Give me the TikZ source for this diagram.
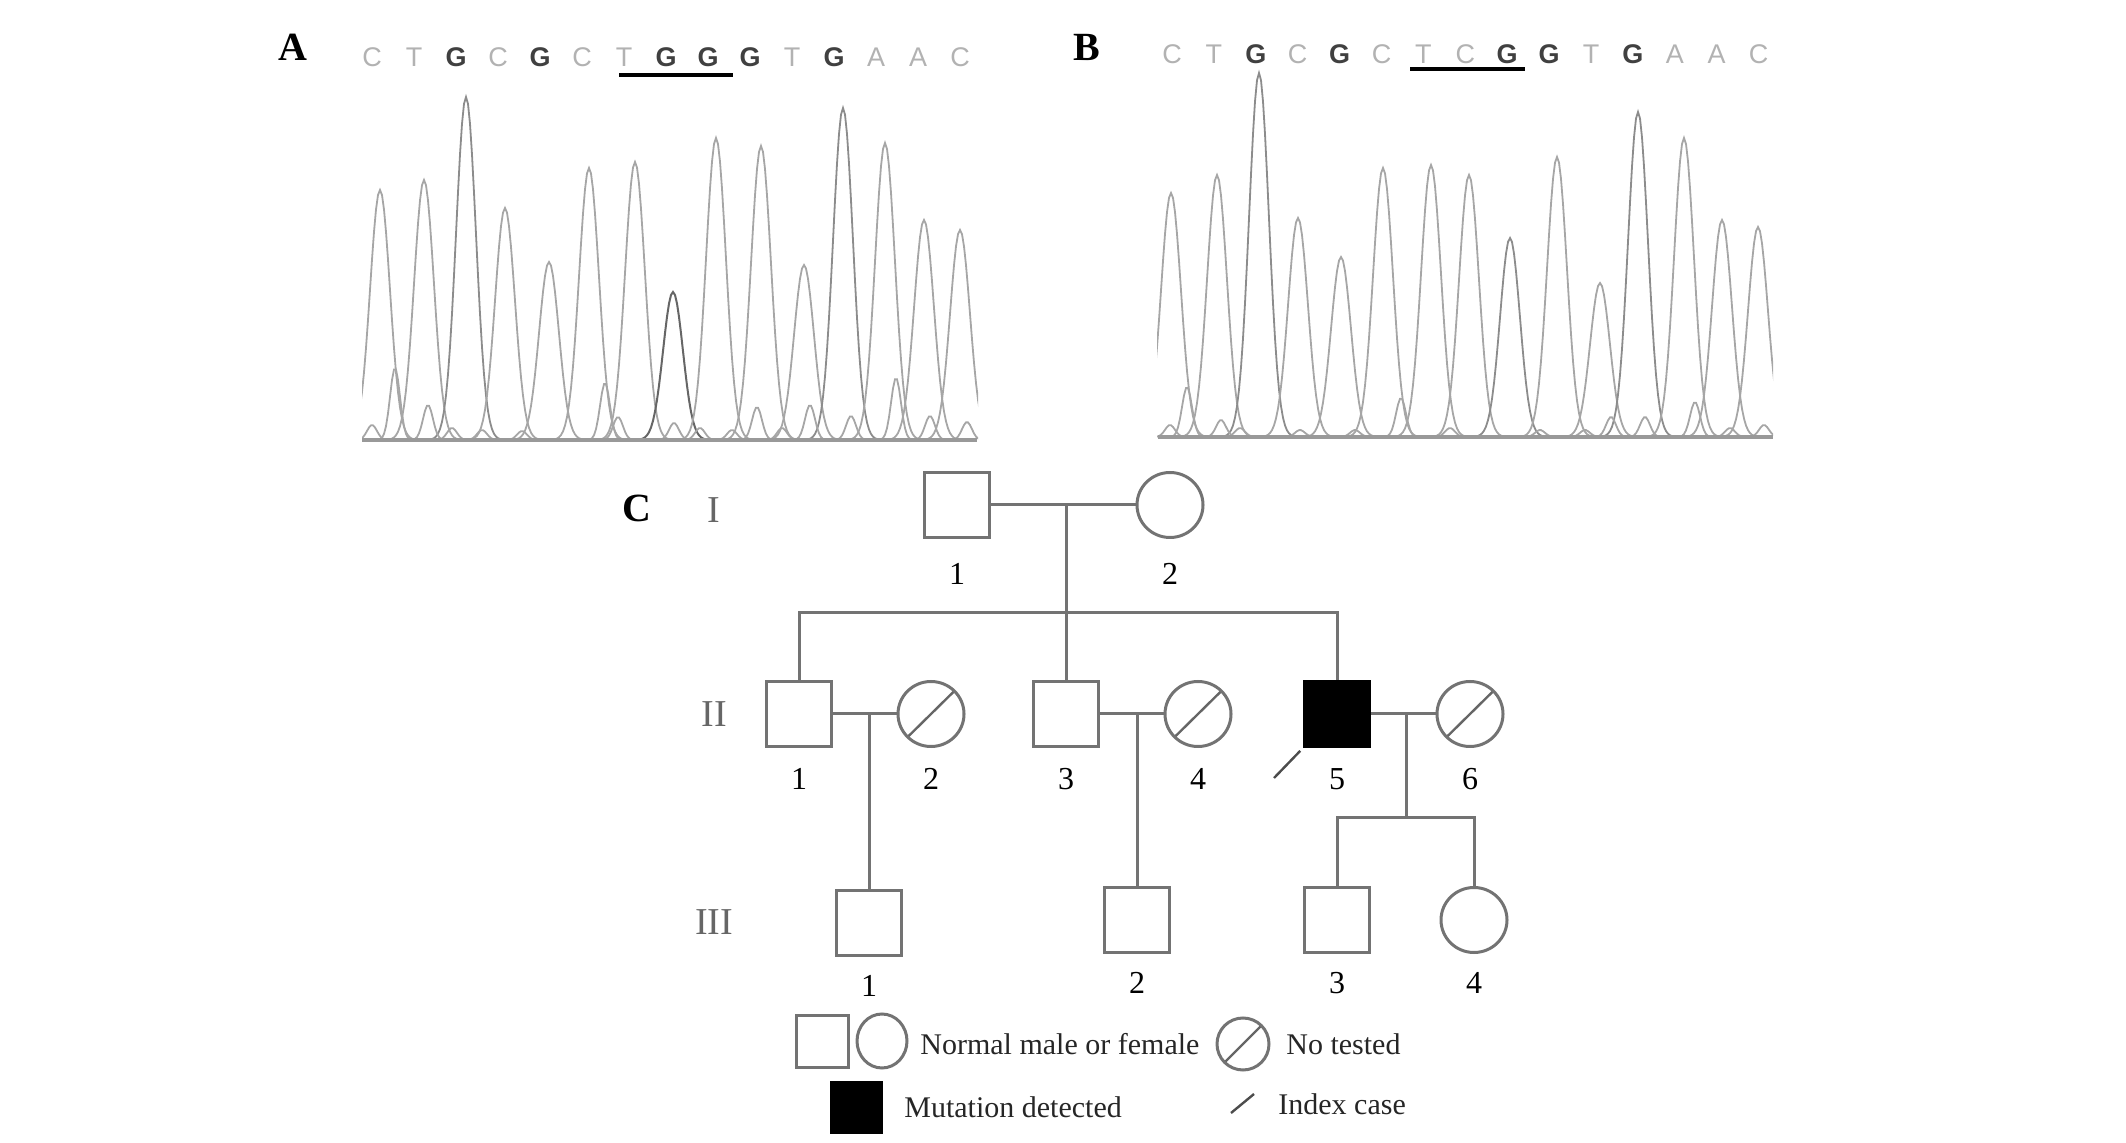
\documentclass[tikz,border=0pt]{standalone}
\usepackage{fontspec}
\setmainfont{Liberation Serif}
\setsansfont{Liberation Sans}
\usetikzlibrary{shapes.geometric,positioning}

\tikzset{
  male/.style={rectangle, draw=black!55, line width=1.5pt, inner sep=0pt, minimum size=32.5pt},
  female/.style={ellipse, draw=black!55, line width=1.5pt, inner sep=0pt, minimum width=33pt, minimum height=32.5pt},
  affected/.style={fill=black, draw=black},
  untested/.style={path picture={\draw[black!60, line width=1.2pt] (path picture bounding box.south west) -- (path picture bounding box.north east);}},
  link/.style={draw=black!55, line width=1.5pt},
  pointer/.style={draw=black!70, line width=1.2pt, shorten >=2pt},
  tag/.style={inner sep=0pt, font=\fontsize{16}{16}\selectfont},
  gen/.style={inner sep=0pt, text=black!60, font=\fontsize{19}{19}\selectfont},
  panel/.style={inner sep=0pt, font=\fontsize{20}{20}\selectfont\bfseries},
  key/.style={inner sep=0pt, anchor=west, text=black!85, font=\fontsize{15}{15}\selectfont},
  nt/.style={inner sep=0pt, text=black!30, font=\sffamily\fontsize{13.5}{13.5}\selectfont},
  ntg/.style={nt, text=black!75, font=\sffamily\bfseries\fontsize{13.5}{13.5}\selectfont},
  uline/.style={draw=black, line width=2pt},
  pk/.style={draw=black!35, line width=0.9pt},
  pkg/.style={draw=black!45, line width=0.9pt},
  pkd/.style={draw=black!60, line width=1pt},
  axisline/.style={draw=black!40, line width=2pt}
}

\begin{document}
\begin{tikzpicture}[x=0.5pt, y=-0.5pt]
\useasboundingbox (0,0) rectangle (2126,1143);

\node[panel] (pa) at (293,47) {A};
\node[panel] (pb) at (1087,47) {B};
\node[panel] (pc) at (637,508) {C};

% sequences
\foreach \b/\s [count=\i from 0] in {C/nt,T/nt,G/ntg,C/nt,G/ntg,C/nt,T/nt,G/ntg,G/ntg,G/ntg,T/nt,G/ntg,A/nt,A/nt,C/nt}
  \node[\s] (sa\i) at (372+42*\i,57) {\b};
\foreach \b/\s [count=\i from 0] in {C/nt,T/nt,G/ntg,C/nt,G/ntg,C/nt,T/nt,C/nt,G/ntg,G/ntg,T/nt,G/ntg,A/nt,A/nt,C/nt}
  \node[\s] (sb\i) at (1172+41.9*\i,54) {\b};
\draw[uline] (619,75) -- (733,75);
\draw[uline] (1410,69) -- (1525,69);

% traces A
\begin{scope}
\clip (362,60) rectangle (978,446);
\foreach \c/\t/\s in {380/190/pk, 424/180/pk, 466/97/pkg, 505/208/pk, 549/262/pk, 589/168/pk,
    635/162/pk, 673/292/pkd, 716/138/pk, 761/146/pk, 804/265/pk, 843/108/pkg, 885/143/pk,
    924/220/pk, 960/230/pk}
  \draw[\s] plot[domain=\c-42:\c+42, samples=43] (\x,{440-(440-\t)*exp(-(\x-\c)*(\x-\c)/196)});
\foreach \c/\t in {395/368, 428/405, 605/383, 618/417, 674/423, 757/407, 810/405, 851/416,
    896/378, 930/416, 967/422, 372/425, 452/428, 482/430, 522/431, 700/428, 732/430, 782/428}
  \draw[pk] plot[domain=\c-21:\c+21, samples=22] (\x,{440-(440-\t)*exp(-(\x-\c)*(\x-\c)/49)});
\end{scope}
\draw[axisline] (362,440) -- (977,440);

% traces B
\begin{scope}
\clip (1157,60) rectangle (1773,443);
\foreach \c/\t/\s in {1171/193/pk, 1217/175/pk, 1259/73/pkg, 1298/218/pk, 1341/257/pk,
    1383/168/pk, 1431/165/pk, 1469/175/pk, 1510/238/pkg, 1557/157/pk, 1600/283/pk,
    1638/112/pkg, 1684/138/pk, 1722/220/pk, 1758/227/pk}
  \draw[\s] plot[domain=\c-42:\c+42, samples=43] (\x,{437-(437-\t)*exp(-(\x-\c)*(\x-\c)/196)});
\foreach \c/\t in {1187/387, 1221/420, 1401/398, 1611/417, 1645/417, 1695/402, 1764/425,
    1170/425, 1240/428, 1300/430, 1355/430, 1450/428, 1540/430, 1585/430, 1730/428}
  \draw[pk] plot[domain=\c-21:\c+21, samples=22] (\x,{437-(437-\t)*exp(-(\x-\c)*(\x-\c)/49)});
\end{scope}
\draw[axisline] (1158,437) -- (1773,437);

% pedigree
\node[gen] (g1) at (714,510) {I};
\node[gen] (g2) at (714,714) {II};
\node[gen] (g3) at (714,922) {III};

\node[male]                (i1)   at (957,505)  {};
\node[female]              (i2)   at (1170,505) {};
\node[male]                (ii1)  at (799,714)  {};
\node[female, untested]    (ii2)  at (931,714)  {};
\node[male]                (ii3)  at (1066,714) {};
\node[female, untested]    (ii4)  at (1198,714) {};
\node[male, affected]      (ii5)  at (1337,714) {};
\node[female, untested]    (ii6)  at (1470,714) {};
\node[male]                (iii1) at (869,923)  {};
\node[male]                (iii2) at (1137,920) {};
\node[male]                (iii3) at (1337,920) {};
\node[female]              (iii4) at (1474,920) {};

\node[tag, below=12pt of i1] {1};
\node[tag, below=12pt of i2] {2};
\node[tag, below=10pt of ii1] {1};
\node[tag, below=10pt of ii2] {2};
\node[tag, below=10pt of ii3] {3};
\node[tag, below=10pt of ii4] {4};
\node[tag, below=10pt of ii5] {5};
\node[tag, below=10pt of ii6] {6};
\node[tag, below=9pt of iii1] {1};
\node[tag, below=9pt of iii2] {2};
\node[tag, below=9pt of iii3] {3};
\node[tag, below=9pt of iii4] {4};

\coordinate (m1) at (ii3 |- i1);
\coordinate (s1) at (1066,613);
\coordinate (s3) at (1406,818);
\draw[link] (i1) -- (i2);
\draw[link] (m1) -- (ii3);
\draw[link] (ii1.north) |- (s1) -| (ii5.north);
\draw[link] (ii1) -- (ii2);
\draw[link] (ii3) -- (ii4);
\draw[link] (ii5) -- (ii6);
\draw[link] (iii1.north |- ii1.east) -- (iii1.north);
\draw[link] (iii2.north |- ii3.east) -- (iii2.north);
\draw[link] (s3 |- ii5.east) -- (s3);
\draw[link] (iii3.north) |- (s3) -| (iii4.north);

\coordinate (idx) at (1274,778);
\draw[pointer] (idx) -- (ii5.south west);

% legend
\node[male, minimum size=26pt]                       (km) at (822,1041)  {};
\node[female, minimum width=25pt, minimum height=27pt] (kf) at (882,1041) {};
\node[key] (kt1) at (920,1044) {Normal male or female};
\node[female, untested, minimum width=26pt, minimum height=26pt] (ku) at (1243,1044) {};
\node[key] (kt2) at (1286,1044) {No tested};
\node[male, affected, minimum size=25pt]              (ka) at (856,1107)  {};
\node[key] (kt3) at (904,1107) {Mutation detected};
\coordinate (k1) at (1231,1113);
\coordinate (k2) at (1254,1094);
\draw[pointer, shorten >=0pt] (k1) -- (k2);
\node[key] (kt4) at (1278,1104) {Index case};
\end{tikzpicture}
\end{document}
